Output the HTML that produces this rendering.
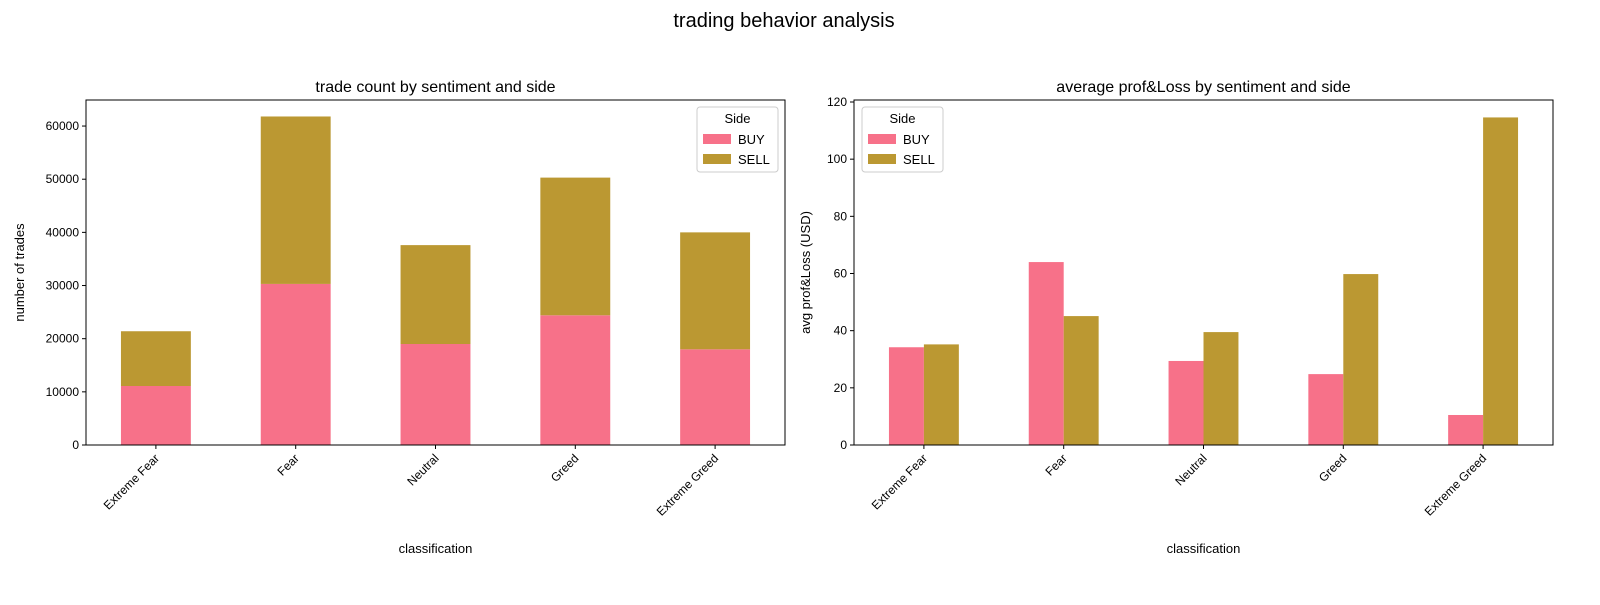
<!DOCTYPE html>
<html><head><meta charset="utf-8"><style>
body{margin:0;background:#fff;}
svg{font-family:"Liberation Sans","DejaVu Sans",sans-serif;}
</style></head><body>
<svg id="svg" width="1600" height="600" xmlns="http://www.w3.org/2000/svg">
<text x="784" y="27" font-size="20" text-anchor="middle" fill="#000">trading behavior analysis</text>
</svg>
<script>
const categories = ["Extreme Fear","Fear","Neutral","Greed","Extreme Greed"];
const countBuy = [11100, 30300, 19000, 24400, 18000];
const countSell = [10300, 31500, 18600, 25900, 22000];
const pnlBuy = [34.2, 64.0, 29.4, 24.8, 10.5];
const pnlSell = [35.2, 45.1, 39.5, 59.8, 114.6];
const leftTicks = [0,10000,20000,30000,40000,50000,60000];
const rightTicks = [0,20,40,60,80,100,120];
const BUY="#f77189", SELL="#bb9832";
const svg=document.getElementById('svg');
const NS="http://www.w3.org/2000/svg";
function mk(tag,attrs,parent){const e=document.createElementNS(NS,tag);for(const k in attrs)e.setAttribute(k,attrs[k]);(parent||svg).appendChild(e);return e;}

function panel(x0,x1,yTop,yBot,yMax,ticks,title,ylabel,prefix){
  const g=mk('g',{});
  
  
  const n=categories.length, step=(x1-x0)/n;
  const xc=i=>x0+step*(i+0.5);
  const ys=v=>yBot-(v/yMax)*(yBot-yTop);
  const t=mk('text',{x:(x0+x1)/2,y:yTop-8,'font-size':16,'text-anchor':'middle'},g);t.textContent=title;
  
  
  ticks.forEach(v=>{
    const y=ys(v);
    mk('line',{x1:x0-4,x2:x0,y1:y,y2:y,stroke:'#000','stroke-width':1},g);
    const tt=mk('text',{x:x0-7,y:y+4,'font-size':12,'text-anchor':'end'},g);tt.textContent=v;
    
    
  });
  categories.forEach((c,i)=>{
    const x=xc(i);
    mk('line',{x1:x,x2:x,y1:yBot,y2:yBot+4,stroke:'#000','stroke-width':1},g);
    const tt=mk('text',{x:x+4,y:yBot+14,'font-size':12,'text-anchor':'end',transform:`rotate(-45 ${x+4} ${yBot+14})`},g);tt.textContent=c;
    
    
  });
  const xl=mk('text',{x:(x0+x1)/2,y:553,'font-size':13,'text-anchor':'middle'},g);xl.textContent='classification';
  
  
  const yl=mk('text',{x:0,y:0,'font-size':13,'text-anchor':'middle',transform:`translate(${prefix==='left'?24:810} ${(yTop+yBot)/2}) rotate(-90)`},g);yl.textContent=ylabel;
  
  
  return {g,xc,ys,step};
}

// left stacked
const L=panel(86,785,100,445,64900,leftTicks,'trade count by sentiment and side','number of trades','left');
categories.forEach((c,i)=>{
  const w=L.step*0.5, x=L.xc(i)-w/2;
  const b=mk('rect',{x:x,width:w,y:L.ys(countBuy[i]),height:L.ys(0)-L.ys(countBuy[i]),fill:BUY},L.g);
  
  
  const s=mk('rect',{x:x,width:w,y:L.ys(countBuy[i]+countSell[i]),height:L.ys(countBuy[i])-L.ys(countBuy[i]+countSell[i]),fill:SELL},L.g);
  
  
});
mk('rect',{x:86,y:100,width:699,height:345,fill:'none',stroke:'#000','stroke-width':1},L.g);

// right grouped
const R=panel(854,1553,100,445,120.7,rightTicks,'average prof&Loss by sentiment and side','avg prof&Loss (USD)','right');
categories.forEach((c,i)=>{
  const w=R.step*0.25, x=R.xc(i);
  const b=mk('rect',{x:x-w,width:w,y:R.ys(pnlBuy[i]),height:R.ys(0)-R.ys(pnlBuy[i]),fill:BUY},R.g);
  
  
  const s=mk('rect',{x:x,width:w,y:R.ys(pnlSell[i]),height:R.ys(0)-R.ys(pnlSell[i]),fill:SELL},R.g);
  
  
});
mk('rect',{x:854,y:100,width:699,height:345,fill:'none',stroke:'#000','stroke-width':1},R.g);

function legend(x,y,prefix){
  const g=mk('g',{});
  
  
  mk('rect',{x:x,y:y,width:81,height:65,rx:3,fill:'#fff','fill-opacity':0.8,stroke:'#ccc'},g);
  const t=mk('text',{x:x+40.5,y:y+16,'font-size':13,'text-anchor':'middle'},g);t.textContent='Side';
  [['BUY',BUY],['SELL',SELL]].forEach((d,k)=>{
    const yy=y+27+k*20;
    mk('rect',{x:x+6,y:yy,width:28,height:10,fill:d[1]},g);
    const tx=mk('text',{x:x+41,y:yy+10,'font-size':13},g);tx.textContent=d[0];
    
    
  });
}
legend(697,107,'left');
legend(862,107,'right');
</script>
</body></html>
